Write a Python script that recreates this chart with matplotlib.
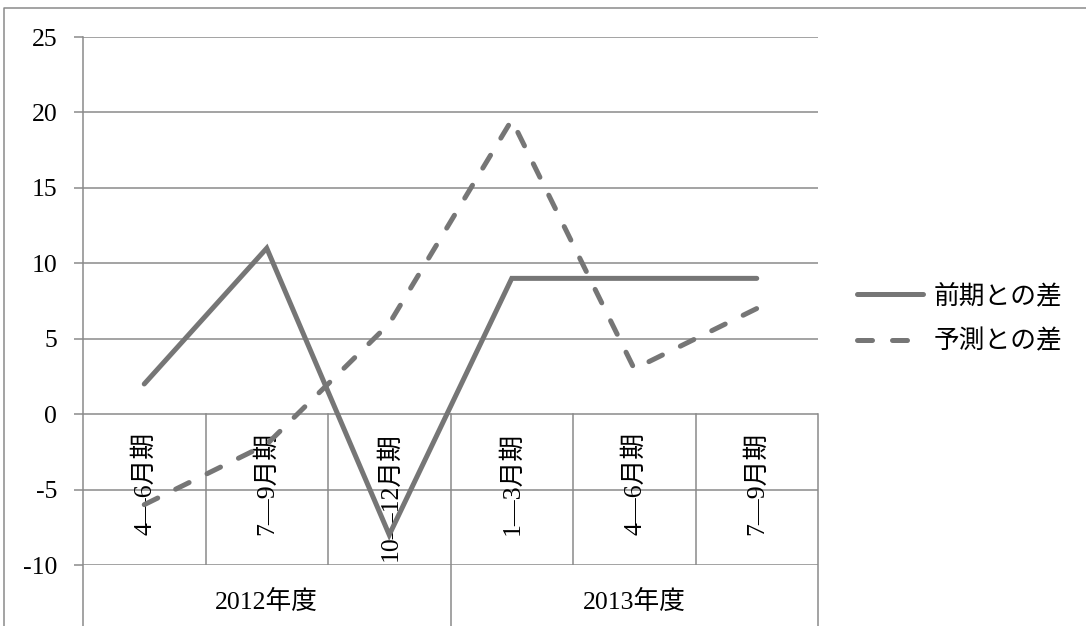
import matplotlib.pyplot as plt
from matplotlib.lines import Line2D

plt.rcParams['font.family'] = ['Liberation Serif', 'Noto Sans CJK JP']

# データ
quarters = ['4—6月期', '7—9月期', '10—12月期', '1—3月期', '4—6月期', '7—9月期']
years = ['2012年度', '2013年度']
year_spans = [(0, 2), (3, 5)]
prev_diff = [2, 11, -8, 9, 9, 9]
forecast_diff = [-6, -2, 6, 19.5, 3, 7]
yticks = [-10, -5, 0, 5, 10, 15, 20, 25]

line_color = '#767676'
grid_color = '#8a8a8a'
fs = 18.5

fig = plt.figure(figsize=(10.86, 6.26), dpi=100)
ax = fig.add_axes([83 / 1086, 61 / 626, 735 / 1086, 528 / 626])

x = list(range(len(quarters)))
ax.plot(x, prev_diff, color=line_color, lw=3.6, solid_capstyle='round',
        solid_joinstyle='miter', zorder=5, label='前期との差')
ax.plot(x, forecast_diff, color=line_color, lw=3.6, dashes=(3, 4),
        dash_capstyle='round', zorder=5, label='予測との差')

ax.set_xlim(-0.5, len(quarters) - 0.5)
ax.set_ylim(-10, 25)
ax.set_xticks([])
ax.set_yticks(yticks)
ax.set_yticklabels([str(v) for v in yticks], fontsize=fs)
ax.tick_params(axis='y', length=6.5, width=1.1, color=grid_color, pad=12)
for s in ax.spines.values():
    s.set_visible(False)

# 目盛線
for v in yticks:
    ax.axhline(v, color=grid_color, lw=1.1, zorder=1)

# 分類軸の区切り線
y_bottom = -14.2
ax.plot([-0.5, -0.5], [25, y_bottom], color=grid_color, lw=1.1, clip_on=False, zorder=1)
ax.plot([5.5, 5.5], [0, y_bottom], color=grid_color, lw=1.1, clip_on=False, zorder=1)
for b in [0.5, 1.5, 3.5, 4.5]:
    ax.plot([b, b], [0, -10], color=grid_color, lw=1.1, zorder=1)
ax.plot([2.5, 2.5], [0, y_bottom], color=grid_color, lw=1.1, clip_on=False, zorder=1)

# 四半期ラベル
for i, q in enumerate(quarters):
    ax.text(i, -1.2, q, rotation=90, ha='center', va='top', fontsize=fs, zorder=3)

# 年度ラベル
for name, (a, b) in zip(years, year_spans):
    ax.text((a + b) / 2, -12.45, name, ha='center', va='center', fontsize=fs,
            clip_on=False)

# 凡例
ax.legend(loc='center left', bbox_to_anchor=(857 / 1086, (626 - 318.5) / 626),
          bbox_transform=fig.transFigure, frameon=False, fontsize=fs,
          handlelength=2.55, handletextpad=0.45, labelspacing=0.82,
          borderpad=0, borderaxespad=0)

# グラフエリアの枠
fig.add_artist(Line2D([4 / 1086, 4 / 1086, 1.0], [0.0, (626 - 8) / 626, (626 - 8) / 626],
                      transform=fig.transFigure, color=grid_color, lw=1.1))

fig.savefig('out.png', dpi=100)
